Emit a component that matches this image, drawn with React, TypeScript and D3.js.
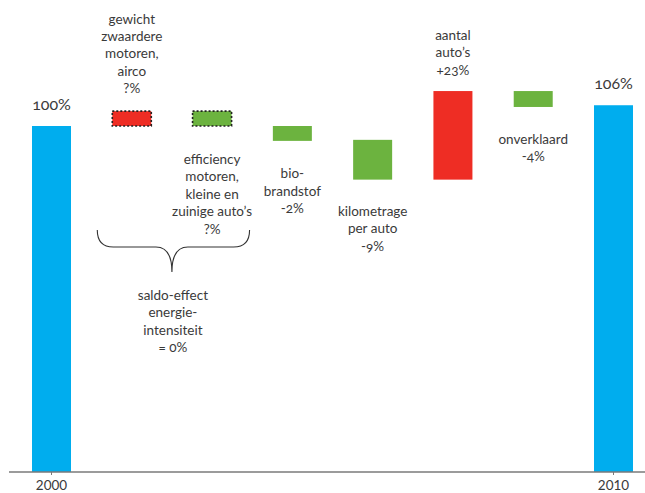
import React from "react";
import * as d3 from "d3";

const categories = ["2000", "gewicht", "efficiency", "bio", "kilometrage", "aantal", "onverklaard", "2010"];
const barStart = [0, 100, 100, 100, 96, 84.5, 110.1, 0];
const barEnd = [100, 104.3, 104.3, 95.7, 84.5, 110.1, 105.5, 106];
const kinds = ["total", "up", "down", "down", "down", "up", "down", "total"];
const uncertain = [false, true, true, false, false, false, false, false];
const totalLabels = ["100%", "", "", "", "", "", "", "106%"];
const axisLabels = ["2000", "2010"];

const annotations = [
  { cat: "gewicht", y: 129.6, lines: ["gewicht", "zwaardere", "motoren,", "airco", "?%"] },
  { cat: "efficiency", y: 89.0, lines: ["efficiency", "motoren,", "kleine en", "zuinige auto’s", "?%"] },
  { cat: "bio", y: 84.9, lines: ["bio-", "brandstof", "-2%"] },
  { cat: "kilometrage", y: 74.0, lines: ["kilometrage", "per auto", "-9%"] },
  { cat: "aantal", y: 124.9, lines: ["aantal", "auto’s", "+23%"] },
  { cat: "onverklaard", y: 94.8, lines: ["onverklaard", "-4%"] },
];
const braceLabel = ["saldo-effect", "energie-", "intensiteit", "= 0%"];

const colors: Record<string, string> = { total: "#00ADEE", up: "#EE2D24", down: "#6CB33F" };

export default function App() {
  const W = 645, H = 493;
  const x = d3.scalePoint<string>().domain(categories).range([51.5, 613.5]);
  const bw = 39;
  const y = d3.scaleLinear().domain([0, 100]).range([472, 126]);
  const lh = 17.4;
  const font = "Lato, 'Open Sans', sans-serif";
  const txt = "#3a3a3a";

  const bx0 = x("gewicht")! - bw / 2 - 15;
  const bx1 = x("efficiency")! + bw / 2 + 18;
  const bxm = (x("gewicht")! + x("efficiency")!) / 2;
  const bTop = 230, bMid = 247, bTip = 272;
  const brace = `M${bx0},${bTop} Q${bx0},${bMid} ${bx0 + 16},${bMid} L${bxm - 16},${bMid} Q${bxm},${bMid} ${bxm},${bTip} Q${bxm},${bMid} ${bxm + 16},${bMid} L${bx1 - 16},${bMid} Q${bx1},${bMid} ${bx1},${bTop}`;

  return (
    <svg width={W} height={H} style={{ position: "absolute", left: 0, top: 0, background: "#fff" }} fontFamily={font}>
      {categories.map((c, i) => {
        const y0 = y(Math.max(barStart[i], barEnd[i]));
        const y1 = y(Math.min(barStart[i], barEnd[i]));
        return (
          <rect
            key={c}
            x={x(c)! - bw / 2}
            y={y0}
            width={bw}
            height={y1 - y0}
            fill={colors[kinds[i]]}
            stroke={uncertain[i] ? "#222" : "none"}
            strokeWidth={uncertain[i] ? 1.6 : 0}
            strokeDasharray={uncertain[i] ? "2,2" : undefined}
          />
        );
      })}
      {categories.map((c, i) =>
        totalLabels[i] ? (
          <text key={"t" + c} x={x(c)} y={y(barEnd[i]) - 16} textAnchor="middle" fontSize={16} fill={txt}
            style={{ fontVariantNumeric: "oldstyle-nums" }}>
            {totalLabels[i]}
          </text>
        ) : null
      )}
      {annotations.map((a) => (
        <text key={a.cat} textAnchor="middle" fontSize={13.5} fill={txt} style={{ fontVariantNumeric: "oldstyle-nums" }}>
          {a.lines.map((l, j) => (
            <tspan key={j} x={x(a.cat)} y={y(a.y) + j * lh}>{l}</tspan>
          ))}
        </text>
      ))}
      <path d={brace} fill="none" stroke="#333" strokeWidth={1.1} />
      <text textAnchor="middle" fontSize={13.5} fill={txt} style={{ fontVariantNumeric: "oldstyle-nums" }}>
        {braceLabel.map((l, j) => (
          <tspan key={j} x={bxm + 1} y={300 + j * lh}>{l}</tspan>
        ))}
      </text>
      <line x1={9} x2={W} y1={y(0)} y2={y(0)} stroke="#7a7a7a" strokeWidth={1.6} />
      {[categories[0], categories[categories.length - 1]].map((c, i) => (
        <g key={"ax" + c}>
          <line x1={x(c)} x2={x(c)} y1={y(0)} y2={y(0) + 3} stroke="#7a7a7a" strokeWidth={1} />
          <text x={x(c)} y={y(0) + 17.5} textAnchor="middle" fontSize={13.5} fill={txt}>{axisLabels[i]}</text>
        </g>
      ))}
    </svg>
  );
}
